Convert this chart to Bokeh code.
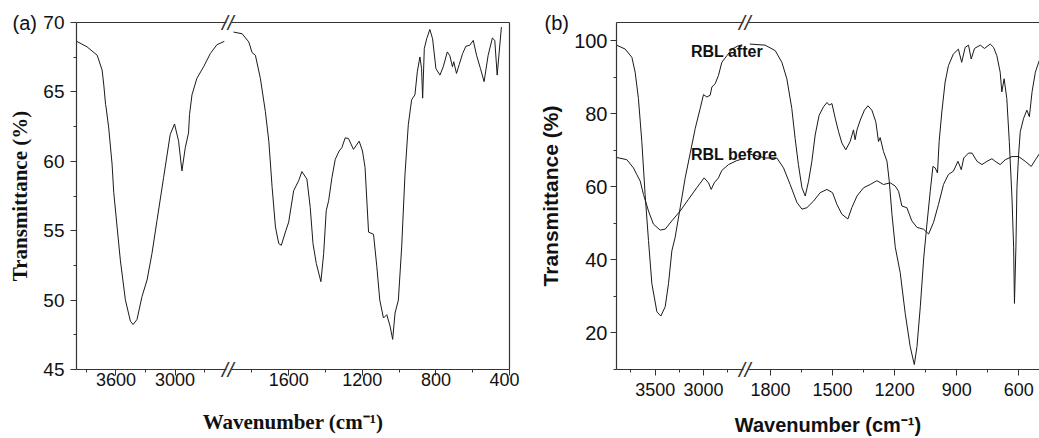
import numpy as np
from bokeh.plotting import figure
from bokeh.layouts import row
from bokeh.models import Range1d, FixedTicker, LinearAxis, Label, Title
from bokeh.embed import file_html
from bokeh.resources import INLINE

# ---------------- Panel (a) data ----------------
WN_A_LEFT = [4000, 3892, 3790, 3740, 3723, 3705, 3700, 3673, 3639, 3622, 3588, 3555, 3504,
             3453, 3426, 3386, 3335, 3284, 3234, 3183, 3116, 3049, 3005, 2964, 2930, 2896,
             2863, 2853, 2828, 2778, 2710, 2642, 2575, 2500]
T_A_LEFT = [68.65, 68.24, 67.64, 66.57, 65.5, 64.1, 63.9, 62.4, 59.8, 57.76, 55.26, 52.88, 50.02,
            48.48, 48.24, 48.6, 50.26, 51.45, 53.36, 55.74, 58.83, 61.93, 62.69, 61.45, 59.31, 60.98,
            62.05, 63.36, 64.79, 65.98, 66.81, 67.76, 68.4, 68.64]
WN_A_RIGHT = [1900, 1853, 1817, 1799, 1781, 1754, 1727, 1708, 1690, 1672, 1654, 1640, 1618, 1600,
              1573, 1546, 1528, 1501, 1483, 1468, 1450, 1425, 1410, 1396, 1383, 1365, 1347, 1326,
              1311, 1293, 1275, 1248, 1217, 1199, 1185, 1166, 1139, 1121, 1105, 1085, 1067, 1049,
              1035, 1022, 1004, 986, 968, 950, 932, 914, 901, 887, 878, 872, 863, 850, 833, 818,
              800, 778, 760, 738, 724, 710, 703, 688, 673, 655, 637, 616, 597, 579, 558, 538, 516,
              493, 480, 467, 444]
T_A_RIGHT = [69.31, 69.19, 68.6, 67.83, 67.64, 65.98, 63.6, 61.45, 58.12, 55.26, 54.07, 53.95, 54.9, 55.62,
             57.88, 58.6, 59.26, 58.71, 56.69, 54.07, 52.64, 51.33, 53.36, 56.45, 57.16, 58.83, 60.14, 60.74,
             60.98, 61.69, 61.64, 60.86, 61.45, 60.74, 59.55, 54.9, 54.74, 52.41, 50.0, 48.71, 48.95, 48.12,
             47.17, 49.07, 50.0, 53.83, 59.07, 62.64, 64.43, 64.79, 66.45, 67.52, 66.69, 64.55, 68.12, 68.83,
             69.5, 68.83, 66.69, 66.21, 66.81, 67.88, 67.6, 66.81, 67.17, 66.33, 66.98, 67.76, 68.29, 68.36,
             68.71, 67.64, 66.69, 65.74, 67.64, 68.88, 68.71, 66.21, 69.67]

A_LEFT_SEG = (4000, 2500)
A_RIGHT_SEG = (1900, 400)
A_X_TICKS = [3600, 3000, 1600, 1200, 800, 400]
A_X_MINOR = [3900, 3300, 2700, 1800, 1400, 1000, 600]
A_Y_TICKS = [45, 50, 55, 60, 65, 70]
A_Y_MINOR = [47.5, 52.5, 57.5, 62.5, 67.5]

# ---------------- Panel (b) data ----------------
WN_B_AFTER_LEFT = [3900, 3811, 3741, 3707, 3673, 3638, 3604, 3569, 3534, 3482, 3441, 3396, 3362, 3327,
                   3293, 3241, 3189, 3137, 3085, 3034, 3000, 2965, 2931, 2913, 2879, 2845, 2810, 2758,
                   2706, 2650, 2600]
T_B_AFTER_LEFT = [98.8, 97.74, 95.47, 91.4, 84.18, 72.4, 57.94, 45.3, 33.5, 25.8, 24.63, 27.2, 33.5, 42.5,
                  46.2, 54.3, 62.5, 69.26, 76.04, 81.47, 85.26, 84.6, 85.08, 87.33, 88.24, 90.5, 94.1, 95.9,
                  97.7, 98.5, 98.9]
WN_B_BEFORE_LEFT = [3900, 3793, 3725, 3690, 3655, 3621, 3569, 3518, 3448, 3396, 3327, 3241, 3155, 3069,
                    2993, 2948, 2920, 2889, 2845, 2810, 2741, 2655, 2600]
T_B_BEFORE_LEFT = [68.06, 67.44, 65.2, 63.37, 61.6, 57.94, 53.4, 49.8, 48.17, 48.44, 50.7, 53.4, 56.6, 59.76,
                   62.47, 61.1, 59.3, 61.1, 62.47, 64.5, 66.1, 67.2, 67.6]
WN_B_AFTER_RIGHT = [1900, 1826, 1777, 1745, 1721, 1697, 1681, 1665, 1648, 1632, 1616, 1600, 1584, 1565,
                    1544, 1527, 1516, 1503, 1487, 1471, 1455, 1436, 1415, 1399, 1391, 1382, 1366, 1346,
                    1329, 1310, 1291, 1278, 1270, 1254, 1237, 1226, 1213, 1197, 1173, 1149, 1125, 1105,
                    1092, 1076, 1059, 1044, 1028, 1015, 1004, 993, 985, 972, 956, 940, 916, 892, 876, 859,
                    843, 830, 814, 786, 766, 738, 722, 706, 690, 682, 671, 658, 646, 633, 625, 621, 614,
                    609, 601, 593, 577, 561, 549, 536, 520, 501]
T_B_AFTER_RIGHT = [99.1, 98.8, 97.3, 94.1, 89.6, 81.5, 73.3, 66.1, 59.76, 57.5, 61.55, 67.0, 74.2, 79.6,
                   81.9, 83.1, 82.4, 82.8, 78.75, 75.1, 72.0, 70.15, 72.4, 75.6, 72.9, 75.6, 78.3, 81.0,
                   82.2, 81.0, 77.8, 72.4, 73.5, 69.7, 67.0, 61.55, 52.5, 43.5, 36.5, 25.4, 16.3, 11.35,
                   16.3, 27.2, 40.8, 49.8, 58.8, 65.6, 65.2, 63.8, 72.4, 80.5, 88.7, 93.2, 96.4, 97.7, 94.1, 98.2,
                   98.8, 95.0, 97.9, 98.8, 97.9, 99.1, 98.2, 95.9, 91.4, 86.0, 89.6, 84.2, 72.4, 57.0, 43.5, 28.1, 43.5,
                   59.8, 68.8, 75.1, 78.75, 81.0, 79.2, 86.0, 91.4, 94.6]
WN_B_BEFORE_RIGHT = [1900, 1826, 1769, 1737, 1705, 1672, 1648, 1624, 1592, 1560, 1527, 1500, 1479, 1455,
                     1426, 1407, 1382, 1350, 1318, 1286, 1254, 1221, 1197, 1181, 1165, 1141, 1117, 1092,
                     1060, 1036, 1012, 988, 964, 940, 916, 894, 878, 866, 843, 826, 802, 778, 754, 730,
                     714, 690, 666, 633, 601, 569, 540, 520, 501]
T_B_BEFORE_RIGHT = [69.0, 67.9, 67.9, 65.2, 60.65, 55.7, 53.9, 54.3, 56.1, 58.4, 59.3, 58.4, 55.2, 52.5,
                    51.2, 54.3, 57.5, 59.76, 60.65, 61.7, 60.65, 61.1, 60.2, 58.8, 54.75, 54.3, 50.7, 48.9,
                    48.4, 47.1, 50.3, 55.2, 60.65, 63.4, 64.3, 67.0, 64.7, 67.9, 69.25, 69.25, 67.0, 66.1, 67.0, 67.7,
                    67.0, 66.1, 67.4, 68.3, 68.3, 67.0, 65.6, 67.4, 69.0]

B_LEFT_SEG = (3900, 2600)
B_RIGHT_SEG = (1900, 500)
B_X_TICKS = [3500, 3000, 1800, 1500, 1200, 900, 600]
B_X_MINOR = [3750, 3250, 2750, 1650, 1350, 1050, 750]
B_Y_TICKS = [20, 40, 60, 80, 100]
B_Y_MINOR = [10, 30, 50, 70, 90]
B_LABEL_AFTER = (3130, 97.0, "RBL after")
B_LABEL_BEFORE = (3130, 68.9, "RBL before")

AX_COLOR = "#333333"
LINE_COLOR = "#1a1a1a"

# figure geometry (px)
A_W, A_H, A_BL, A_BR, A_BT, A_BB = 519, 438, 76, 10, 22, 62
B_W, B_H, B_BL, B_BR, B_BT, B_BB = 520, 438, 97, 0, 16, 67


def make_mapper(left_seg, right_seg, k, gap):
    """Broken wavenumber axis: left segment compressed by k, a small gap, then right segment."""
    def f(w):
        w = np.asarray(w, dtype=float)
        out = np.where(w <= right_seg[0], -w, -right_seg[0] - gap - (w - left_seg[1]) * k)
        return np.round(out, 3)
    return f


fa = make_mapper(A_LEFT_SEG, A_RIGHT_SEG, 0.5355, 50)
fb = make_mapper(B_LEFT_SEG, B_RIGHT_SEG, 0.467, 37)


def style_axis(ax, tick_size, label_font, label_size, label_style="bold"):
    ax.axis_line_color = AX_COLOR
    ax.axis_line_width = 1.2
    ax.major_tick_line_color = AX_COLOR
    ax.minor_tick_line_color = AX_COLOR
    ax.major_tick_in = 0
    ax.major_tick_out = 6
    ax.minor_tick_in = 0
    ax.minor_tick_out = 3
    ax.major_label_text_font = "Liberation Sans"
    ax.major_label_text_font_size = tick_size
    ax.major_label_text_color = "#111111"
    ax.axis_label_text_font = label_font
    ax.axis_label_text_font_size = label_size
    ax.axis_label_text_font_style = label_style
    ax.axis_label_text_color = "#111111"


def line_axis(bounds=None):
    """Axis that only draws its line (frame edge), optionally limited to bounds."""
    ax = LinearAxis(ticker=FixedTicker(ticks=[]), axis_line_color=AX_COLOR, axis_line_width=1.2,
                    major_tick_line_color=None, minor_tick_line_color=None,
                    major_tick_out=0, minor_tick_out=0, major_tick_in=0, minor_tick_in=0,
                    major_label_standoff=0, major_label_text_color=None,
                    major_label_text_font_size="0px", axis_label=None)
    if bounds is not None:
        ax.bounds = bounds
    return ax


def break_title(offset_px):
    return Title(text="//", align="left", offset=offset_px, vertical_align="middle", standoff=-44,
                 text_font="Liberation Sans", text_font_style="italic", text_font_size="21px",
                 text_color=AX_COLOR)


def broken_frame(p, main_x, xr, xc, fw):
    """Split top and bottom frame lines at the axis break and add // marks."""
    ux = (xr[1] - xr[0]) / fw
    gap = 2.5 * ux
    left_b = (xr[0], xc - gap)
    right_b = (xc + gap, xr[1])
    off = (xc - xr[0]) / ux - 7
    main_x.axis_line_color = None
    p.below = [line_axis(left_b), line_axis(right_b), break_title(off)] + list(p.below)
    p.above = [line_axis(left_b), line_axis(right_b), break_title(off)] + list(p.above)


def panel_tag(text, offset_px):
    return Title(text=text, align="left", offset=offset_px, vertical_align="middle", standoff=-40,
                 text_font="Liberation Sans", text_font_style="normal", text_font_size="20px",
                 text_color="#111111")


# ---------------- figure (a) ----------------
xra = (float(fa(A_LEFT_SEG[0])), float(fa(A_RIGHT_SEG[1])))
yra = (45, 70)
pa = figure(width=A_W, height=A_H, output_backend="svg", toolbar_location=None,
            x_range=Range1d(*xra), y_range=Range1d(*yra),
            min_border_left=A_BL, min_border_right=A_BR, min_border_top=A_BT, min_border_bottom=A_BB,
            outline_line_color=None, background_fill_color="white", title=None)
pa.grid.visible = False
pa.line(fa(WN_A_LEFT), T_A_LEFT, line_color=LINE_COLOR, line_width=1)
pa.line(fa(WN_A_RIGHT), T_A_RIGHT, line_color=LINE_COLOR, line_width=1)

xa = pa.xaxis[0]
xa.ticker = FixedTicker(ticks=[float(v) for v in fa(A_X_TICKS)],
                        minor_ticks=[float(v) for v in fa(A_X_MINOR)])
xa.major_label_overrides = {float(fa(t)): str(t) for t in A_X_TICKS}
xa.axis_label = "Wavenumber (cm⁻¹)"
style_axis(xa, "18px", "Liberation Serif", "21px")
xa.major_label_standoff = -3
xa.axis_label_standoff = 21

ya = pa.yaxis[0]
ya.ticker = FixedTicker(ticks=A_Y_TICKS, minor_ticks=A_Y_MINOR)
ya.axis_label = "Transmittance (%)"
style_axis(ya, "19px", "Liberation Serif", "21px")
ya.major_label_standoff = 6
ya.axis_label_standoff = 8

pa.add_layout(line_axis(), "right")
broken_frame(pa, xa, xra, float((fa(A_LEFT_SEG[1]) + fa(A_RIGHT_SEG[0])) / 2), A_W - A_BL - A_BR)
pa.add_layout(panel_tag("(a)", -64), "above")

# ---------------- figure (b) ----------------
xrb = (float(fb(B_LEFT_SEG[0])), float(fb(B_RIGHT_SEG[1])))
yrb = (10, 105)
pb = figure(width=B_W, height=B_H, output_backend="svg", toolbar_location=None,
            x_range=Range1d(*xrb), y_range=Range1d(*yrb),
            min_border_left=B_BL, min_border_right=B_BR, min_border_top=B_BT, min_border_bottom=B_BB,
            outline_line_color=None, background_fill_color="white", title=None)
pb.grid.visible = False
pb.line(fb(WN_B_AFTER_LEFT), T_B_AFTER_LEFT, line_color=LINE_COLOR, line_width=1)
pb.line(fb(WN_B_AFTER_RIGHT), T_B_AFTER_RIGHT, line_color=LINE_COLOR, line_width=1)
pb.line(fb(WN_B_BEFORE_LEFT), T_B_BEFORE_LEFT, line_color=LINE_COLOR, line_width=1)
pb.line(fb(WN_B_BEFORE_RIGHT), T_B_BEFORE_RIGHT, line_color=LINE_COLOR, line_width=1)

xb = pb.xaxis[0]
xb.ticker = FixedTicker(ticks=[float(v) for v in fb(B_X_TICKS)],
                        minor_ticks=[float(v) for v in fb(B_X_MINOR)])
xb.major_label_overrides = {float(fb(t)): str(t) for t in B_X_TICKS}
xb.axis_label = "Wavenumber (cm⁻¹)"
style_axis(xb, "18px", "Liberation Sans", "20px")
xb.major_label_standoff = 7
xb.axis_label_standoff = 15

yb = pb.yaxis[0]
yb.ticker = FixedTicker(ticks=B_Y_TICKS, minor_ticks=B_Y_MINOR)
yb.axis_label = "Transmittance (%)"
style_axis(yb, "20px", "Liberation Sans", "21px")
yb.major_label_standoff = 3
yb.axis_label_standoff = 9

broken_frame(pb, xb, xrb, float((fb(B_LEFT_SEG[1]) + fb(B_RIGHT_SEG[0])) / 2), B_W - B_BL - B_BR)
for wx, ty, txt in (B_LABEL_AFTER, B_LABEL_BEFORE):
    pb.add_layout(Label(x=float(fb(wx)), y=ty, text=txt, text_baseline="middle",
                        text_font="Liberation Sans", text_font_style="bold", text_font_size="16px",
                        text_color="#111111"))
pb.add_layout(panel_tag("(b)", -72), "above")

layout = row(pa, pb)
open("out.html", "w").write(file_html(layout, INLINE))
